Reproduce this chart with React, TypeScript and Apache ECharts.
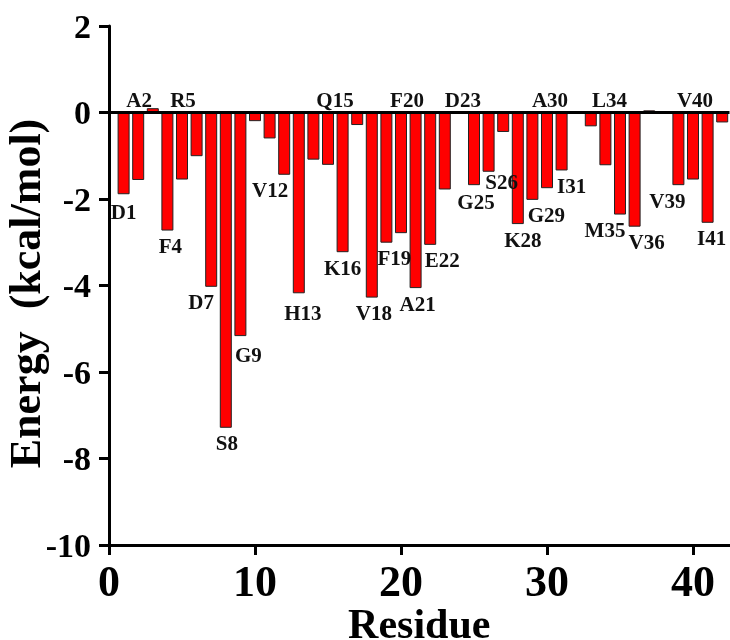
import React, { useEffect, useRef } from "react";
import * as echarts from "echarts";

// Residue numbers that have a bar, and their energy contribution (kcal/mol)
const residues = [
  1, 2, 3, 4, 5, 6, 7, 8, 9, 10, 11, 12, 13, 14, 15, 16, 17, 18, 19, 20, 21, 22, 23,
  25, 26, 27, 28, 29, 30, 31, 33, 34, 35, 36, 37, 39, 40, 41, 42,
];
const energies = [
  -1.89, -1.56, 0.1, -2.73, -1.55, -1.01, -4.03, -7.29, -5.17, -0.2, -0.6, -1.44, -4.18,
  -1.09, -1.21, -3.23, -0.29, -4.28, -3.01, -2.79, -4.06, -3.06, -1.78,
  -1.68, -1.37, -0.45, -2.58, -2.02, -1.75, -1.34, -0.32, -1.22, -2.36, -2.64, 0.05,
  -1.68, -1.55, -2.55, -0.23,
];

// Residue labels: which residue they annotate, and their text
const labelResidues = [1, 2, 4, 5, 7, 8, 9, 12, 13, 15, 16, 18, 19, 20, 21, 22, 23, 25, 26, 28, 29, 30, 31, 34, 35, 36, 39, 40, 41];
const labelNames = ["D1", "A2", "F4", "R5", "D7", "S8", "G9", "V12", "H13", "Q15", "K16", "V18", "F19", "F20", "A21", "E22", "D23", "G25", "S26", "K28", "G29", "A30", "I31", "L34", "M35", "V36", "V39", "V40", "I41"];

const xTicks = [0, 10, 20, 30, 40];

// Layout tweaks for the labels (which side, horizontal nudge in px, gap in px)
const aboveSet = new Set(["A2", "R5", "Q15", "F20", "D23", "A30", "L34", "V40"]);
const nudge: Record<string, number> = {
  D1: 0, A2: 1, F4: 3, R5: 1, D7: -10, S8: 1, G9: 8, V12: -14, H13: 4, Q15: 7, K16: 0,
  V18: 2, F19: 8, F20: 6, A21: 2, E22: 12, D23: 18, G25: 2, S26: 13, K28: 5, G29: 14,
  A30: 3, I31: 10, L34: 4, M35: -15, V36: 12, V39: -11, V40: 2, I41: 4,
};
const gapOverride: Record<string, number> = { S26: 0, G25: 6, D1: 7, G9: 8, H13: 9 };

const FONT = "'Liberation Serif', 'Times New Roman', serif";

export default function App() {
  const ref = useRef<HTMLDivElement>(null);
  useEffect(() => {
    if (!ref.current) return;
    const chart = echarts.init(ref.current, null, { renderer: "svg" });

    const data = residues.map((r, i) => {
      const li = labelResidues.indexOf(r);
      const item: any = { value: [r, energies[i]] };
      if (li >= 0) {
        const name = labelNames[li];
        const above = aboveSet.has(name);
        item.label = {
          show: true,
          formatter: name,
          position: above ? "top" : "bottom",
          distance: gapOverride[name] ?? (above ? 2 : 5),
          offset: [nudge[name] || 0, 0],
        };
      }
      return item;
    });

    chart.setOption({
      animation: false,
      grid: { left: 109, top: 26, width: 620.5, height: 519, outerBoundsMode: "none" },
      xAxis: {
        type: "value",
        min: 0,
        max: 42.5,
        interval: 10,
        name: "Residue",
        nameLocation: "middle",
        nameGap: 63,
        nameMoveOverlap: false,
        nameTextStyle: { fontFamily: FONT, fontWeight: "bold", fontSize: 42, lineHeight: 32, color: "#000" },
        axisLine: { onZero: false, lineStyle: { color: "#000", width: 3 } },
        axisTick: { show: true, length: 10, lineStyle: { color: "#000", width: 3 }, customValues: xTicks },
        axisLabel: {
          customValues: xTicks,
          margin: 14,
          fontFamily: FONT,
          fontWeight: "bold",
          fontSize: 44,
          color: "#000",
        },
        splitLine: { show: false },
      },
      yAxis: {
        type: "value",
        min: -10,
        max: 2,
        interval: 2,
        name: "Energy  (kcal/mol)",
        nameLocation: "middle",
        nameGap: 62,
        nameMoveOverlap: false,
        nameTextStyle: {
          fontFamily: FONT,
          fontWeight: "bold",
          fontSize: 44,
          color: "#000",
          padding: [0, 16, 0, 0],
        },
        axisLine: { show: true, lineStyle: { color: "#000", width: 3 } },
        axisTick: { show: true, length: 10, lineStyle: { color: "#000", width: 3 } },
        axisLabel: {
          margin: 18,
          fontFamily: FONT,
          fontWeight: "bold",
          fontSize: 34,
          color: "#000",
        },
        splitLine: { show: false },
      },
      series: [
        {
          type: "bar",
          barWidth: 12,
          data,
          itemStyle: { color: "#ff0000", borderColor: "#222", borderWidth: 1 },
          label: {
            fontFamily: FONT,
            fontWeight: "bold",
            fontSize: 21,
            color: "#111",
          },
          markLine: {
            silent: true,
            symbol: "none",
            label: { show: false },
            lineStyle: { color: "#000", width: 3, type: "solid" },
            data: [{ yAxis: 0 }],
          },
        },
      ],
    });
    return () => chart.dispose();
  }, []);
  return <div ref={ref} style={{ position: "fixed", left: 0, top: 0, width: 730, height: 640 }} />;
}
